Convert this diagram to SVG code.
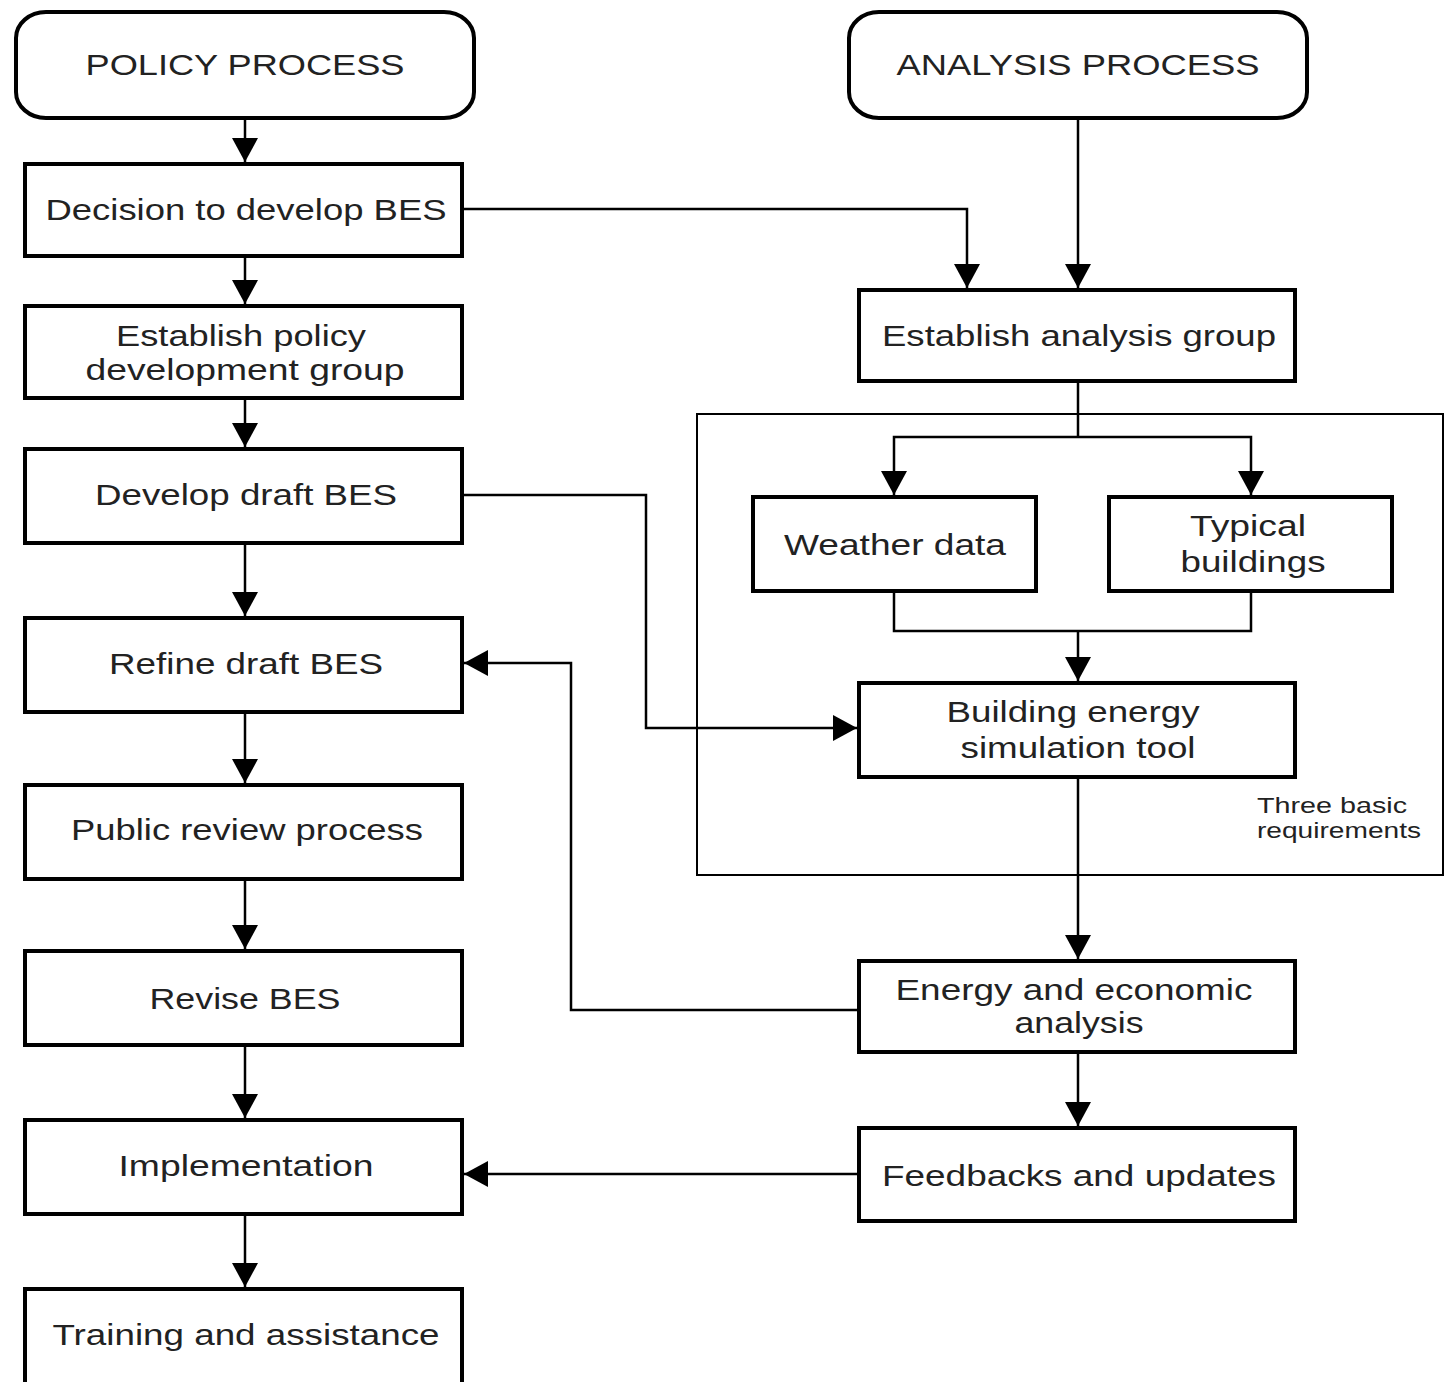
<svg xmlns="http://www.w3.org/2000/svg" width="1445" height="1382" viewBox="0 0 1445 1382">
<style>
.box{fill:#fff;stroke:#000;stroke-width:4}
.term{fill:#fff;stroke:#000;stroke-width:4}
.frame{fill:none;stroke:#000;stroke-width:2}
.c{fill:none;stroke:#000;stroke-width:2.5}
.t{font-family:"Liberation Sans",Arial,sans-serif;font-size:30px;fill:#222;text-anchor:middle}
.s{font-family:"Liberation Sans",Arial,sans-serif;font-size:22px;fill:#222}
</style>
<defs>
<marker id="ah" markerUnits="userSpaceOnUse" markerWidth="26" markerHeight="28" refX="24" refY="13" orient="auto" viewBox="0 0 26 28">
<path d="M0,0 L24,13 L0,26 z" fill="#000"/>
</marker>
</defs>
<rect width="1445" height="1382" fill="#fff"/>
<g id="frame-three-basic">
<rect class="frame" x="697" y="414" width="746" height="461"/>
<text class="s" x="1257" y="813" textLength="150" lengthAdjust="spacingAndGlyphs">Three basic</text>
<text class="s" x="1257" y="838" textLength="164" lengthAdjust="spacingAndGlyphs">requirements</text>
</g>
<g id="connectors">
<path class="c" d="M245,118 V162" marker-end="url(#ah)"/>
<path class="c" d="M245,256 V304" marker-end="url(#ah)"/>
<path class="c" d="M245,398 V447" marker-end="url(#ah)"/>
<path class="c" d="M245,543 V616" marker-end="url(#ah)"/>
<path class="c" d="M245,712 V783" marker-end="url(#ah)"/>
<path class="c" d="M245,879 V949" marker-end="url(#ah)"/>
<path class="c" d="M245,1045 V1118" marker-end="url(#ah)"/>
<path class="c" d="M245,1214 V1287" marker-end="url(#ah)"/>
<path class="c" d="M462,209 H967 V288" marker-end="url(#ah)"/>
<path class="c" d="M1078,118 V288" marker-end="url(#ah)"/>
<path class="c" d="M1078,381 V437"/>
<path class="c" d="M1078,437 H894 V495" marker-end="url(#ah)"/>
<path class="c" d="M1078,437 H1251 V495" marker-end="url(#ah)"/>
<path class="c" d="M894,591 V631 H1251 V591"/>
<path class="c" d="M1078,631 V681" marker-end="url(#ah)"/>
<path class="c" d="M462,495 H646 V728 H857" marker-end="url(#ah)"/>
<path class="c" d="M1078,777 V959" marker-end="url(#ah)"/>
<path class="c" d="M859,1010 H571 V663 H464" marker-end="url(#ah)"/>
<path class="c" d="M1078,1052 V1126" marker-end="url(#ah)"/>
<path class="c" d="M859,1174 H464" marker-end="url(#ah)"/>
</g>
<g id="policy-process">
<rect class="term" x="16" y="12" width="458" height="106" rx="30" ry="26"/>
<text class="t" x="245" y="75" textLength="319" lengthAdjust="spacingAndGlyphs">POLICY PROCESS</text>
</g>
<g id="analysis-process">
<rect class="term" x="849" y="12" width="458" height="106" rx="30" ry="26"/>
<text class="t" x="1078" y="75" textLength="363" lengthAdjust="spacingAndGlyphs">ANALYSIS PROCESS</text>
</g>
<g id="decision">
<rect class="box" x="25" y="164" width="437" height="92"/>
<text class="t" x="246" y="220" textLength="401" lengthAdjust="spacingAndGlyphs">Decision to develop BES</text>
</g>
<g id="establish-policy">
<rect class="box" x="25" y="306" width="437" height="92"/>
<text class="t" x="241" y="346" textLength="250" lengthAdjust="spacingAndGlyphs">Establish policy</text>
<text class="t" x="245" y="380" textLength="319" lengthAdjust="spacingAndGlyphs">development group</text>
</g>
<g id="develop-draft">
<rect class="box" x="25" y="449" width="437" height="94"/>
<text class="t" x="246" y="505" textLength="302" lengthAdjust="spacingAndGlyphs">Develop draft BES</text>
</g>
<g id="refine-draft">
<rect class="box" x="25" y="618" width="437" height="94"/>
<text class="t" x="246" y="674" textLength="274" lengthAdjust="spacingAndGlyphs">Refine draft BES</text>
</g>
<g id="public-review">
<rect class="box" x="25" y="785" width="437" height="94"/>
<text class="t" x="247" y="840" textLength="352" lengthAdjust="spacingAndGlyphs">Public review process</text>
</g>
<g id="revise">
<rect class="box" x="25" y="951" width="437" height="94"/>
<text class="t" x="245" y="1009" textLength="191" lengthAdjust="spacingAndGlyphs">Revise BES</text>
</g>
<g id="implementation">
<rect class="box" x="25" y="1120" width="437" height="94"/>
<text class="t" x="246" y="1176" textLength="255" lengthAdjust="spacingAndGlyphs">Implementation</text>
</g>
<g id="training">
<rect class="box" x="25" y="1289" width="437" height="110"/>
<text class="t" x="246" y="1345" textLength="387" lengthAdjust="spacingAndGlyphs">Training and assistance</text>
</g>
<g id="establish-analysis">
<rect class="box" x="859" y="290" width="436" height="91"/>
<text class="t" x="1079" y="346" textLength="394" lengthAdjust="spacingAndGlyphs">Establish analysis group</text>
</g>
<g id="weather-data">
<rect class="box" x="753" y="497" width="283" height="94"/>
<text class="t" x="895" y="555" textLength="222" lengthAdjust="spacingAndGlyphs">Weather data</text>
</g>
<g id="typical-buildings">
<rect class="box" x="1109" y="497" width="283" height="94"/>
<text class="t" x="1248" y="536" textLength="116" lengthAdjust="spacingAndGlyphs">Typical</text>
<text class="t" x="1253" y="572" textLength="145" lengthAdjust="spacingAndGlyphs">buildings</text>
</g>
<g id="simulation-tool">
<rect class="box" x="859" y="683" width="436" height="94"/>
<text class="t" x="1073" y="722" textLength="253" lengthAdjust="spacingAndGlyphs">Building energy</text>
<text class="t" x="1078" y="758" textLength="235" lengthAdjust="spacingAndGlyphs">simulation tool</text>
</g>
<g id="energy-analysis">
<rect class="box" x="859" y="961" width="436" height="91"/>
<text class="t" x="1074" y="1000" textLength="357" lengthAdjust="spacingAndGlyphs">Energy and economic</text>
<text class="t" x="1079" y="1033" textLength="129" lengthAdjust="spacingAndGlyphs">analysis</text>
</g>
<g id="feedbacks">
<rect class="box" x="859" y="1128" width="436" height="93"/>
<text class="t" x="1079" y="1186" textLength="394" lengthAdjust="spacingAndGlyphs">Feedbacks and updates</text>
</g>
</svg>
